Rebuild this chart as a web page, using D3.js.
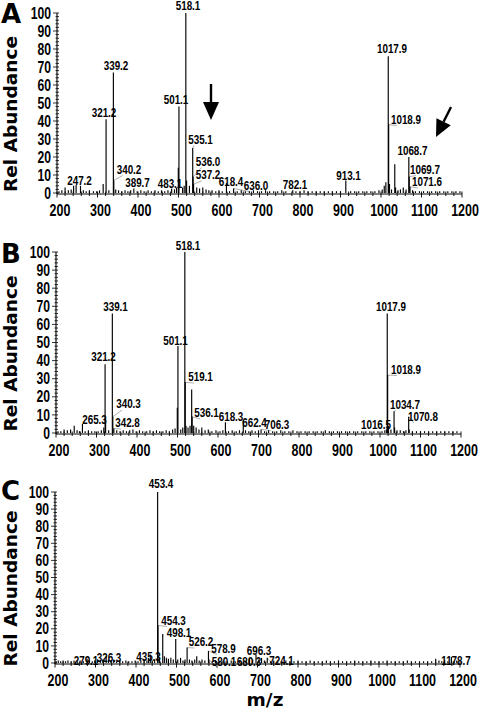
<!DOCTYPE html>
<html><head><meta charset="utf-8">
<script src="https://cdn.jsdelivr.net/npm/d3@7"></script>
<style>body{margin:0;background:#fff}</style>
</head><body><svg id="c" width="480" height="712"></svg>
<script>
// ---------- data ----------
const xTicks = [200,300,400,500,600,700,800,900,1000,1100,1200];
const yTicks = [0,10,20,30,40,50,60,70,80,90,100];
const panelLetters = ["A","B","C"];
const xTitle = "m/z";
const yTitle = "Rel Abundance";

// [m/z, relative abundance]
const peaksA = [[205,1],[212,1.5],[220,3],[228,1.5],[235,2],[241,4],[247.2,4.5],[258,4],[265,1.5],[272,1],[280,1.5],[290,1],[298,1],[305,1.5],[314,5],[321.2,41],[328,1.5],[339.2,67],[340.2,7],[345,2],[352,1.5],[360,1],[368,1.5],[375,1],[382,1.5],[389.7,2.5],[398,1],[407,1.5],[415,1],[425,1.5],[433,1],[442,1.5],[450,1],[458,1.5],[466,1],[474,1.5],[483.1,2.5],[490,2],[495,3],[499.5,14],[501.1,48],[510,3],[514,4],[518.1,100],[520,7],[527,4],[535.1,25],[536,9],[537.2,5],[545,3],[552,2.5],[560,3],[568,2],[575,1.5],[583,1.5],[592,1],[600,1.5],[608,1],[618.4,5.5],[626,1],[636,2.5],[645,1],[655,1.5],[665,1],[675,1],[685,1.5],[695,1],[705,1],[715,1.5],[725,1],[735,1],[745,1],[755,1.5],[765,1],[782.1,1.5],[790,1],[800,1],[810,1.5],[820,1],[830,1],[840,1],[850,1],[860,1],[870,1],[880,1],[890,1],[900,1],[913.1,7],[925,1],[935,1],[945,1],[955,1],[965,1],[975,1],[985,1],[995,1.5],[1003,2],[1008,4],[1012,6],[1017.9,76],[1018.9,38],[1021,5],[1026,2],[1034,16],[1036,3],[1042,1.5],[1048,2],[1055,3],[1062,2],[1068.7,20],[1069.7,9],[1071.6,3.5],[1078,1.5],[1085,1],[1095,1],[1105,1],[1115,1],[1125,1],[1135,1],[1145,1],[1155,1],[1165,1],[1175,1],[1185,1],[1195,1]];
const peaksB = [[205,1],[212,1],[220,2],[228,1.5],[236,2],[245,4],[252,1.5],[258,1],[265.3,5],[272,1],[280,1.5],[288,1],[296,1],[304,1],[312,1.5],[318,3],[321.2,38],[322.5,8],[330,1.5],[339.1,66],[340.3,9],[342.8,2.5],[350,1.5],[358,1],[366,1.5],[374,1],[382,1.5],[390,2],[398,1],[406,1.5],[414,1],[424,1],[432,1.5],[440,1],[448,1.5],[456,1],[464,1],[472,1.5],[480,1],[488,2],[494,2.5],[499.5,14],[501.1,48],[508,2],[513,3],[518.1,100],[519.1,28],[521,4],[526,3],[531,4],[535,24],[536.1,9],[540,4],[546,3],[553,2],[560,3],[568,1.5],[576,2],[585,1],[595,1.5],[605,1],[612,1.5],[618.3,6],[626,1],[635,1.5],[645,1],[653,1.5],[662.4,7],[668,1.5],[676,1],[684,1.5],[692,1],[700,1.5],[706.3,2],[715,1],[725,1.5],[735,1],[745,1],[755,1.5],[765,1],[775,1],[785,1.5],[795,1],[805,1],[815,1],[825,1],[835,1],[845,1],[855,1],[865,1.5],[875,1],[885,1],[895,1],[905,1],[915,1],[925,1],[935,1],[945,1],[955,1],[965,1],[975,1],[985,1],[995,1],[1005,1],[1012,1.5],[1016.5,2],[1017.9,66],[1018.9,32],[1021,4],[1027,2],[1034.7,12],[1036,3],[1042,1.5],[1050,1.5],[1058,1],[1064,1.5],[1070.8,9],[1072,2],[1080,1],[1090,1],[1100,1],[1110,1],[1120,1],[1130,1],[1140,1],[1150,1],[1160,1],[1170,1],[1180,1],[1190,1]];
const peaksC = [[203,1],[208,1.5],[214,1],[220,1.5],[226,1],[232,1.5],[240,1],[247,1.5],[255,1],[262,1.5],[270,1],[279.1,2.5],[285,1.5],[292,1],[298,1.5],[305,2],[312,1.5],[318,2],[326.3,4],[332,2],[338,1.5],[345,2],[352,1],[360,1.5],[367,1],[375,1.5],[382,1],[390,1],[398,1.5],[405,1],[412,1.5],[420,2],[427,1.5],[431,3],[435.3,5],[440,1.5],[446,2],[453.4,100],[454.3,22],[458,3],[466,17],[470,4],[475,3],[480,2.5],[486,3],[492,2],[498.1,14],[503,2],[510,3],[516,1.5],[521,2],[526.2,9],[532,2],[538,1.5],[545,2],[550,4],[556,1.5],[563,2],[570,1.5],[578.9,7],[580.1,2],[588,1],[596,1.5],[605,1],[615,1.5],[625,1],[635,1.5],[645,1],[655,1.5],[665,1],[672,1.5],[680.3,3],[688,2],[696.3,5],[703,2],[710,3],[717,1.5],[724.1,3],[732,1],[740,1.5],[750,1],[760,1],[770,1.5],[780,1],[790,1],[800,1.5],[810,1],[820,1],[830,1.5],[840,1],[850,1],[860,1],[870,1.5],[880,1],[890,1],[900,1.5],[910,1],[920,1],[930,1],[940,1.5],[950,1],[960,1],[970,1],[980,1.5],[990,1],[1000,1],[1010,1],[1020,1.5],[1030,1],[1040,1],[1050,1],[1060,1],[1070,1.5],[1080,1],[1090,1],[1100,1],[1110,1],[1120,1],[1130,1],[1140,2.5],[1148,1.5],[1155,1],[1162,1.5],[1170,1],[1178.7,3.5],[1185,1],[1192,1.5]];

// peak labels (text = m/z of the labelled peak)
const labelsA = ["518.1","339.2","321.2","501.1","535.1","536.0","537.2","340.2","389.7","483.1","247.2","618.4","636.0","782.1","913.1","1017.9","1018.9","1068.7","1069.7","1071.6"];
const labelsB = ["518.1","339.1","321.2","501.1","519.1","340.3","342.8","265.3","536.1","618.3","662.4","706.3","1017.9","1018.9","1034.7","1070.8","1016.5"];
const labelsC = ["453.4","454.3","498.1","526.2","578.9","580.1","680.3","696.3","724.1","435.3","326.3","279.1","1178.7"];

// ---------- layout (label placement: centre x px, baseline px, leader line) ----------
const placeA = [[188,10,0],[116,70,0],[104,117,0],[176,104,0],[200.5,143.5,1],[208,165.5,1],[208,179,1],[129,173.5,1],[137.5,187,0],[170,188,0],[79.5,185,0],[231,186,0],[256,189.5,1],[295,188.5,0],[348.5,179.5,0],[392,52.5,0],[406,123.5,1],[412.5,155,0],[425,173.5,1],[427,186,1]];
const placeB = [[188,249.5,0],[115.5,311,0],[103.5,361,0],[175.5,344.5,0],[200.5,381,1],[128.5,408,1],[127.5,427,1],[94.5,423.5,0],[206.5,417,1],[231,421,0],[254.5,427,0],[277,428.5,1],[391,310.5,0],[406,373.5,1],[405,408.5,1],[423,421,1],[376,428.5,1]];
const placeC = [[161,487.5,0],[173.5,624.5,1],[179,637,0],[201,646,1],[223.5,652.5,1],[224,666,1],[249,666,0],[259,654.5,0],[281.5,664.5,1],[148.5,661,0],[109,661.5,0],[86,665,0],[456,665,0]];

const panels = [
  {letter:0, peaks:peaksA, labels:labelsA, place:placeA, x0:57, x1:462, y0:193, y1:13, ly:23},
  {letter:1, peaks:peaksB, labels:labelsB, place:placeB, x0:56, x1:461, y0:433, y1:252, ly:263},
  {letter:2, peaks:peaksC, labels:labelsC, place:placeC, x0:55, x1:460, y0:663, y1:492, ly:500}
];

const svg = d3.select("#c");
const arial = "'Liberation Sans',Arial,sans-serif";
const wide = "'DejaVu Sans',sans-serif";

// condensed bold text: drawn with Liberation Sans Bold, squeezed horizontally
function condText(sel, x, y, txt, size, sx, anchor) {
  return sel.append("text")
    .attr("transform", `translate(${x},${y}) scale(${sx},1)`)
    .attr("text-anchor", anchor)
    .style("font-family", arial).style("font-weight","bold").style("font-size", size + "px")
    .text(txt);
}

panels.forEach((p) => {
  const x = d3.scaleLinear().domain([200,1200]).range([p.x0, p.x1]);
  const y = d3.scaleLinear().domain([0,100]).range([p.y0, p.y1]);
  const g = svg.append("g");
  const leaders = g.append("g");

  // peaks
  g.append("g").selectAll("line").data(p.peaks).join("line")
    .attr("x1", d => x(d[0])).attr("x2", d => x(d[0]))
    .attr("y1", y(0)).attr("y2", d => y(d[1]))
    .attr("stroke", "#000").attr("stroke-width", 1.15);

  // x axis
  const xa = g.append("g").attr("transform", `translate(0,${y(0)+1})`);
  xa.append("line").attr("x1", x(200)).attr("x2", x(1200)).attr("stroke","#000").attr("stroke-width",1.1);
  xa.selectAll("line.mn").data(d3.range(200,1201,20)).join("line")
    .attr("x1", d=>x(d)).attr("x2", d=>x(d)).attr("y1",-2.5).attr("y2", d => d%100===0 ? 3.5 : 2)
    .attr("stroke","#000").attr("stroke-width",0.9);
  xTicks.forEach(v => condText(xa, x(v)+3, 21.5, v, 16, 0.78, "middle"));

  // y axis
  const ya = g.append("g").attr("transform", `translate(${x(200)},0)`);
  ya.append("line").attr("y1", y(0)+1).attr("y2", y(100)).attr("stroke","#000").attr("stroke-width",1.1);
  ya.selectAll("line.mn").data(d3.range(0,101,2)).join("line")
    .attr("y1", d=>y(d)).attr("y2", d=>y(d)).attr("x1", d => d%10===0 ? -4 : -1.5).attr("x2", 2)
    .attr("stroke","#000").attr("stroke-width",0.8);
  yTicks.forEach(v => condText(ya, -6, y(v) + 5.6, v, 16, 0.76, "end"));

  // y title
  g.append("text")
    .attr("transform", `translate(17,${(y(0)+y(100))/2 + 11}) rotate(-90)`)
    .attr("text-anchor","middle")
    .style("font-family", wide).style("font-weight","bold").style("font-size","18.5px")
    .text(yTitle);

  // panel letter
  g.append("text").attr("x", 1).attr("y", p.ly)
    .style("font-family", wide).style("font-weight","bold").style("font-size","26px")
    .text(panelLetters[p.letter]);

  // labels
  p.labels.forEach((t, i) => {
    const [cx, bl, lead] = p.place[i];
    const mz = parseFloat(t);
    const pk = p.peaks.reduce((a,b) => Math.abs(b[0]-mz) < Math.abs(a[0]-mz) ? b : a);
    const tx = condText(g, cx, bl, t, 13, 0.76, "middle");
    if (lead) {
      const w = tx.node().getComputedTextLength() * 0.76;
      const px = x(pk[0]), py = y(pk[1]);
      const ex = cx >= px ? cx - w/2 + 6 : cx + w/2 - 6;
      leaders.append("line").attr("x1", px).attr("y1", py).attr("x2", ex).attr("y2", bl + 2)
        .attr("stroke","#999").attr("stroke-width",0.8);
    }
  });
});

// x title
svg.append("text").attr("x", 265).attr("y", 706).attr("text-anchor","middle")
  .style("font-family", wide).style("font-weight","bold").style("font-size","18.5px")
  .text(xTitle);

// arrows in panel A
function arrow(x1, y1, x2, y2, hl, hw) {
  const dx = x2-x1, dy = y2-y1, L = Math.hypot(dx,dy), ux = dx/L, uy = dy/L;
  const bx = x2 - ux*hl, by = y2 - uy*hl;
  svg.append("line").attr("x1",x1).attr("y1",y1).attr("x2",bx).attr("y2",by)
    .attr("stroke","#000").attr("stroke-width",2.4);
  svg.append("path").attr("d", `M${x2},${y2}L${bx - uy*hw},${by + ux*hw}L${bx + uy*hw},${by - ux*hw}Z`).attr("fill","#000");
}
arrow(211, 84, 211, 120, 18, 8);
arrow(451, 107, 436, 137, 17, 8);
</script></body></html>
